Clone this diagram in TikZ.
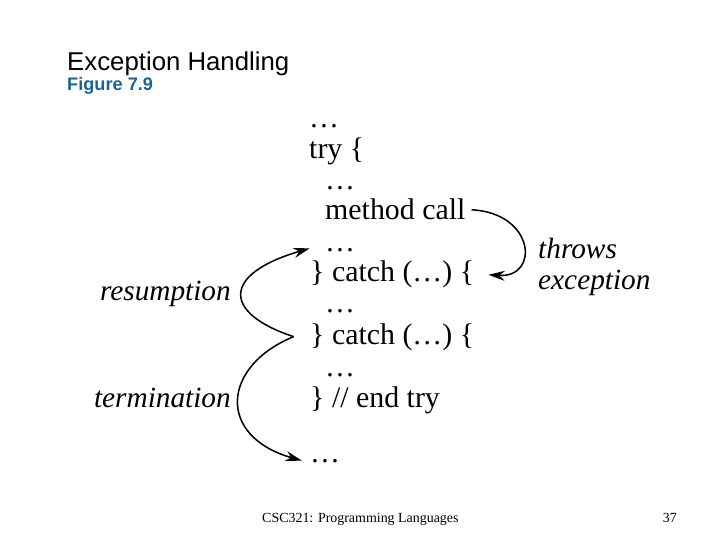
\documentclass[tikz,border=0pt]{standalone}
\usepackage{fontspec}
\setmainfont{Liberation Serif}
\newfontfamily\headfont{Liberation Sans}
\usetikzlibrary{arrows.meta}

\definecolor{figblue}{RGB}{30,98,145}

\begin{document}
\begin{tikzpicture}[
  x=0.03cm, y=-0.03cm,
  >=Stealth,
  code/.style={anchor=base west, inner sep=0pt, font=\fontsize{25.5}{30}\selectfont},
  remark/.style={anchor=base west, inner sep=0pt, font=\fontsize{25}{30}\selectfont\itshape},
  flow/.style={black, line width=1.3pt, -{Stealth[length=14pt, width=8.5pt]}}
]
\useasboundingbox (0,0) rectangle (720,540);

\node[anchor=base west, inner sep=0pt, font=\headfont\fontsize{22}{26}\selectfont] (title) at (67,71) {Exception Handling};
\node[anchor=base west, inner sep=0pt, font=\headfont\bfseries\fontsize{15.5}{18}\selectfont, text=figblue] (fig) at (67,91) {Figure 7.9};

% code lines
\node[code] (dotsA) at (309,128) {…};
\node[code] (try) at (309,159) {try \{};
\node[code] (dotsB) at (325,190) {…};
\node[code] (mcall) at (325,220) {method call};
\node[code] (dotsC) at (325,252) {…};
\node[code] (catchA) at (310,282) {\} catch (…) \{};
\node[code] (dotsD) at (325,313) {…};
\node[code] (catchB) at (310,345) {\} catch (…) \{};
\node[code] (dotsE) at (325,377) {…};
\node[code] (endtry) at (310,407) {\} // end try};
\node[code] (dotsF) at (310,462) {…};

\node[remark] (throws) at (538,259) {throws};
\node[remark] (exc) at (538,290) {exception};
\node[remark, anchor=base east] (resume) at (231,301) {resumption};
\node[remark, anchor=base east] (term) at (231,408) {termination};

\coordinate (raise) at ([xshift=5pt]mcall.east);
\coordinate (land) at ([xshift=12pt]catchA.east);
\coordinate (handler) at ([xshift=-14pt, yshift=1pt]catchB.west);
\coordinate (back) at ([xshift=-13pt, yshift=2pt]dotsC.west);
\coordinate (after) at ([xshift=-7pt]dotsF.west);

\draw[flow] (raise) .. controls (535,213) and (540,278) .. (land);
\draw[flow] (handler) .. controls (222,313) and (222,274) .. (back);
\draw[flow] (handler) .. controls (222,366) and (216,436) .. (after);

\node[anchor=base west, inner sep=0pt, font=\fontsize{11.9}{14}\selectfont] (course) at (262,522) {CSC321: Programming Languages};
\node[anchor=base east, inner sep=0pt, font=\fontsize{11.9}{14}\selectfont] (page) at (677,522) {37};
\end{tikzpicture}
\end{document}
